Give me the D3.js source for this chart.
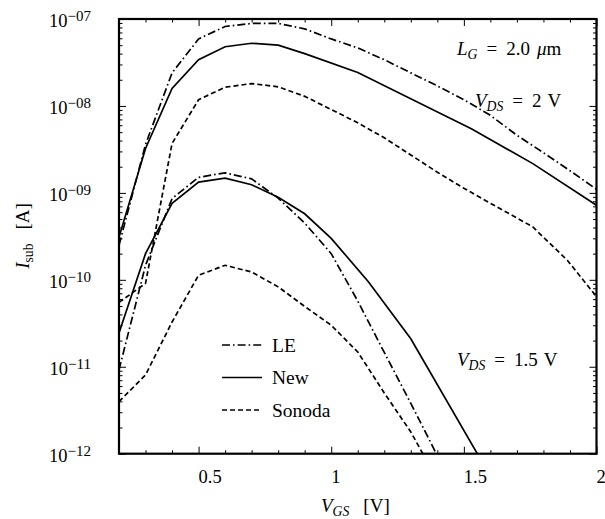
<!DOCTYPE html>
<html>
<head>
<meta charset="utf-8">
<script src="https://cdn.jsdelivr.net/npm/d3@7"></script>
<style>
body { margin: 0; background: #fff; }
text { font-family: "Liberation Serif", serif; fill: #000; }
</style>
</head>
<body>
<script>
// V_DS = 2 V group
var leHighV = [0.2, 0.3, 0.4, 0.5, 0.6, 0.7, 0.8, 0.9, 1.0, 1.1, 1.2, 1.3, 1.4, 1.5, 1.6, 1.7, 1.8, 1.9, 2.0];
var leHighI = [2.5e-10, 3.6e-9, 2.4e-8, 5.9e-8, 8.2e-8, 8.9e-8, 8.9e-8, 7.7e-8, 5.9e-8, 4.65e-8, 3.4e-8, 2.4e-8, 1.7e-8, 1.18e-8, 7.8e-9, 4.6e-9, 2.9e-9, 1.8e-9, 1.1e-9];
var newHighV = [0.2, 0.3, 0.4, 0.5, 0.6, 0.7, 0.8, 0.9, 1.1, 1.53, 1.76, 2.0];
var newHighI = [3.1e-10, 3.24e-9, 1.59e-8, 3.4e-8, 4.8e-8, 5.26e-8, 5.0e-8, 4.0e-8, 2.42e-8, 5.43e-9, 2.17e-9, 7.2e-10];
var sonHighV = [0.2, 0.3, 0.4, 0.5, 0.6, 0.7, 0.8, 0.9, 1.0, 1.1, 1.2, 1.3, 1.4, 1.5, 1.6, 1.7, 1.76, 1.89, 2.0];
var sonHighI = [5.5e-11, 9.1e-11, 3.7e-9, 1.18e-8, 1.64e-8, 1.81e-8, 1.66e-8, 1.29e-8, 9.1e-9, 6.4e-9, 4.3e-9, 2.73e-9, 1.73e-9, 1.13e-9, 7.6e-10, 5.15e-10, 4.05e-10, 1.68e-10, 6.4e-11];

// V_DS = 1.5 V group
var leLowV = [0.2, 0.3, 0.4, 0.5, 0.6, 0.7, 0.8, 0.9, 1.0, 1.1, 1.2, 1.3, 1.4, 1.5];
var leLowI = [9.2e-12, 1.47e-10, 8.6e-10, 1.51e-9, 1.7e-9, 1.45e-9, 8.7e-10, 4.5e-10, 2.0e-10, 5.7e-11, 1.46e-11, 3.8e-12, 9.5e-13, 2.6e-13];
var newLowV = [0.2, 0.3, 0.4, 0.5, 0.6, 0.7, 0.8, 0.9, 1.0, 1.14, 1.3, 1.6];
var newLowI = [2.45e-11, 2.0e-10, 7.6e-10, 1.33e-9, 1.48e-9, 1.24e-9, 8.9e-10, 5.75e-10, 3.0e-10, 9.5e-11, 2.1e-11, 5.5e-13];
var sonLowV = [0.2, 0.3, 0.4, 0.5, 0.6, 0.7, 0.8, 0.9, 1.0, 1.1, 1.2, 1.3, 1.4];
var sonLowI = [3.97e-12, 8.05e-12, 3.27e-11, 1.13e-10, 1.47e-10, 1.23e-10, 8.3e-11, 4.94e-11, 3.0e-11, 1.48e-11, 5.0e-12, 1.78e-12, 5.0e-13];

var xTicks = [0.5, 1, 1.5, 2];
var xTickLabels = ['0.5', '1', '1.5', '2'];
var yTicks = [1e-7, 1e-8, 1e-9, 1e-10, 1e-11, 1e-12];
var yTickExp = ['\u221207', '\u221208', '\u221209', '\u221210', '\u221211', '\u221212'];
var legendNames = ['LE', 'New', 'Sonoda'];

var dashDot = '8,3,1.6,3';
var dashed = '5,3';
var legendDash = [dashDot, null, dashed];

// plot box (window.top is read-only, so no plain "top")
var pL = 119, pR = 596.5, pT = 19, pB = 453.7;

var x = d3.scaleLinear().domain([0.2, 2]).range([pL, pR]);
var y = d3.scaleLog().domain([1e-12, 1e-7]).range([pB, pT]);

var svg = d3.select('body').append('svg')
    .attr('width', 605)
    .attr('height', 519);

svg.append('clipPath').attr('id', 'plot')
    .append('rect')
    .attr('x', pL).attr('y', pT)
    .attr('width', pR - pL).attr('height', pB - pT);

// ticks, all pointing inward
var xMinor = d3.range(2, 21).map(function(d) { return d / 10; })
    .filter(function(d) { return xTicks.indexOf(d) < 0; });
var yMinor = y.ticks().filter(function(d) {
    return Math.abs(Math.log10(d) - Math.round(Math.log10(d))) > 1e-6;
});

function tickAxis(axis, pos, vals, size) {
    var g = svg.append('g')
        .attr('transform', pos)
        .call(axis.tickValues(vals).tickSize(-size).tickSizeOuter(0).tickFormat(''));
    g.select('.domain').remove();
    g.selectAll('line').attr('stroke', '#000').attr('stroke-width', 1);
}
tickAxis(d3.axisBottom(x), 'translate(0,' + pB + ')', xTicks, 7);
tickAxis(d3.axisBottom(x), 'translate(0,' + pB + ')', xMinor, 3.5);
tickAxis(d3.axisTop(x), 'translate(0,' + pT + ')', xTicks, 7);
tickAxis(d3.axisTop(x), 'translate(0,' + pT + ')', xMinor, 3.5);
tickAxis(d3.axisLeft(y), 'translate(' + pL + ',0)', yTicks, 7);
tickAxis(d3.axisLeft(y), 'translate(' + pL + ',0)', yMinor, 3.5);
tickAxis(d3.axisRight(y), 'translate(' + pR + ',0)', yTicks, 7);
tickAxis(d3.axisRight(y), 'translate(' + pR + ',0)', yMinor, 3.5);

// curves
var series = [
    {v: leHighV, i: leHighI, dash: dashDot},
    {v: newHighV, i: newHighI, dash: null},
    {v: sonHighV, i: sonHighI, dash: dashed},
    {v: leLowV, i: leLowI, dash: dashDot},
    {v: newLowV, i: newLowI, dash: null},
    {v: sonLowV, i: sonLowI, dash: dashed}
];
var line = d3.line()
    .x(function(d) { return x(d[0]); })
    .y(function(d) { return y(d[1]); });

svg.append('g').attr('clip-path', 'url(#plot)')
    .selectAll('path')
    .data(series)
    .enter().append('path')
    .attr('d', function(s) { return line(d3.zip(s.v, s.i)); })
    .attr('fill', 'none')
    .attr('stroke', '#000')
    .attr('stroke-width', 1.7)
    .attr('stroke-dasharray', function(s) { return s.dash; });

// frame
svg.append('rect')
    .attr('x', pL).attr('y', pT)
    .attr('width', pR - pL).attr('height', pB - pT)
    .attr('fill', 'none')
    .attr('stroke', '#000')
    .attr('stroke-width', 2.2);

// tick labels
svg.selectAll('text.xlab')
    .data(xTicks)
    .enter().append('text')
    .attr('class', 'xlab')
    .attr('x', function(d) { return x(d); })
    .attr('y', 483)
    .attr('font-size', 18.5)
    .text(function(d, i) { return xTickLabels[i]; });

svg.selectAll('text.ylab')
    .data(yTicks)
    .enter().append('text')
    .attr('class', 'ylab')
    .attr('x', 91)
    .attr('y', function(d) { return y(d) + 8; })
    .attr('text-anchor', 'end')
    .attr('font-size', 18.5)
    .each(function(d, i) {
        var t = d3.select(this);
        t.append('tspan').text('10');
        t.append('tspan').attr('dy', -6).attr('font-size', 15).text(yTickExp[i]);
    });

// math-like text: parts = [text, style, dx], style 'i' italic, 's' italic subscript, 'r' roman subscript
function mathText(xp, yp, parts, size, rotate) {
    var t = svg.append('text')
        .attr('font-size', size);
    if (rotate) {
        t.attr('transform', 'translate(' + xp + ',' + yp + ') rotate(-90)')
            .attr('text-anchor', 'middle');
    } else {
        t.attr('x', xp).attr('y', yp);
    }
    var shift = 0;
    parts.forEach(function(p) {
        var sp = t.append('tspan').text(p[0]);
        var sub = p[1] === 's' || p[1] === 'r';
        var want = sub ? 4 : 0;
        if (want !== shift) { sp.attr('dy', want - shift); shift = want; }
        if (p[2]) sp.attr('dx', p[2]);
        if (p[1] === 'i' || p[1] === 's') sp.attr('font-style', 'italic');
        if (sub) sp.attr('font-size', size * 0.72);
    });
    return t;
}

mathText(321, 512, [['V', 'i'], ['GS', 's'], ['[V]', '', 14]], 19);
mathText(29, 236, [['I', 'i'], ['sub', 'r'], ['[A]', '', 14]], 19, true);

mathText(457, 55, [['L', 'i'], ['G', 's'], ['=', '', 9], ['2.0', '', 9], ['\u03bc', 'i', 7], ['m', '']], 19);
mathText(475, 107, [['V', 'i'], ['DS', 's'], ['=', '', 9], ['2', '', 9], ['V', '', 6]], 19);
mathText(457, 366, [['V', 'i'], ['DS', 's'], ['=', '', 9], ['1.5', '', 9], ['V', '', 6]], 19);

// legend
var legendY = d3.scaleLinear().domain([0, 2]).range([345, 410]);
var leg = svg.selectAll('g.leg')
    .data(legendNames)
    .enter().append('g')
    .attr('class', 'leg')
    .attr('transform', function(d, i) { return 'translate(0,' + legendY(i) + ')'; });
leg.append('line')
    .attr('x1', 222).attr('x2', 262)
    .attr('stroke', '#000')
    .attr('stroke-width', 1.7)
    .attr('stroke-dasharray', function(d, i) { return legendDash[i]; });
leg.append('text')
    .attr('x', 272)
    .attr('y', 6.5)
    .attr('font-size', 19.5)
    .text(function(d) { return d; });
</script>
</body>
</html>
